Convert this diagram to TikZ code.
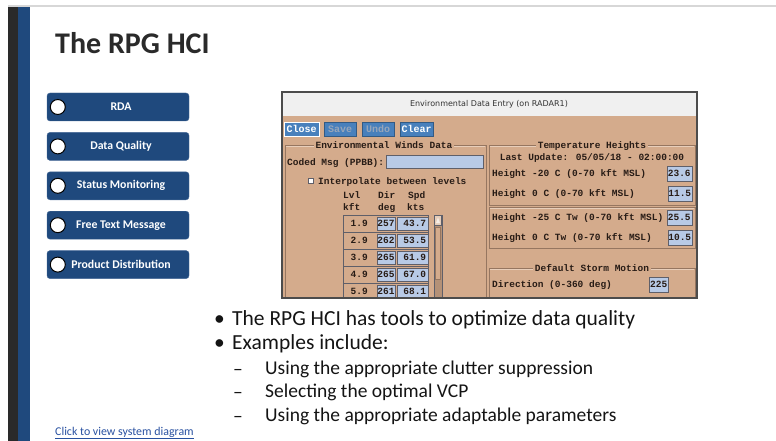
\documentclass[tikz,border=0pt]{standalone}
\usepackage{fontspec}
\setmainfont{Carlito}
\newfontfamily\guifont{Liberation Mono}
\newfontfamily\wintitlefont{DejaVu Sans}
\usetikzlibrary{positioning}

\definecolor{navblue}{RGB}{31,73,125}
\definecolor{navedge}{RGB}{70,105,150}
\definecolor{darkbar}{RGB}{42,42,42}
\definecolor{pageline}{RGB}{215,215,215}
\definecolor{guitan}{RGB}{212,171,140}
\definecolor{guiink}{RGB}{40,28,22}
\definecolor{etchdark}{RGB}{150,118,96}
\definecolor{etchlight}{RGB}{232,206,186}
\definecolor{fieldblue}{RGB}{184,202,230}
\definecolor{fieldedge}{RGB}{95,95,105}
\definecolor{btnblue}{RGB}{72,128,188}
\definecolor{btngrey}{RGB}{150,165,185}
\definecolor{linkblue}{RGB}{40,80,160}
\definecolor{bodyink}{RGB}{20,20,20}

\tikzset{
	navbtn/.style={draw=navedge, fill=navblue, rounded corners=3pt, minimum width=142pt,
		minimum height=28pt, inner sep=0pt, text=white, font=\bfseries\fontsize{11.8}{13}\selectfont},
	navdot/.style={circle, draw=black, fill=white, line width=1pt, minimum size=15pt, inner sep=0pt},
	guitext/.style={font=\guifont\bfseries\fontsize{9.5}{11}\selectfont, text=guiink, inner sep=0pt},
	grouptitle/.style={guitext, fill=guitan, inner xsep=2pt, inner ysep=1pt, anchor=base},
	etched/.style={draw=etchdark, line width=0.8pt},
	guibtn/.style={guitext, fill=btnblue, draw=btnblue!70!black, minimum width=32pt,
		minimum height=14pt, font=\guifont\bfseries\fontsize{10}{11}\selectfont},
	guifield/.style={guitext, fill=fieldblue, draw=fieldedge, line width=0.5pt, minimum height=15pt},
	bullettext/.style={font=\fontsize{21.5}{25}\selectfont, text=bodyink, inner sep=0pt, anchor=base west},
	subtext/.style={font=\fontsize{19.5}{23}\selectfont, text=bodyink, inner sep=0pt, anchor=base west}
}

\begin{document}
\begin{tikzpicture}[x=1pt, y=-1pt]
	\useasboundingbox (0,0) rectangle (776,441);

	% Slide frame: top rule and left bars
	\draw[pageline, line width=1.2pt] (8,6) -- (776,6);
	\fill[darkbar] (8,7) rectangle (18,441);
	\fill[navblue] (18,7) rectangle (30,441);

	\node [anchor=base west, inner sep=0pt, text=darkbar, font=\bfseries\fontsize{30}{34}\selectfont] (title) at (55,53.5) {The RPG HCI};

	% Navigation buttons
	\node [navbtn] (rda) at (118,107) {\hspace{6pt}RDA};
	\node [navbtn, below=11pt of rda] (quality) {\hspace{6pt}Data Quality};
	\node [navbtn, below=11pt of quality] (status) {\hspace{6pt}Status Monitoring};
	\node [navbtn, below=11pt of status] (freetext) {\hspace{6pt}Free Text Message};
	\node [navbtn, below=11pt of freetext] (product) {\hspace{6pt}Product Distribution};
	\node [navdot] (rdadot) at ([xshift=11pt]rda.west) {};
	\node [navdot] (qualitydot) at ([xshift=11pt]quality.west) {};
	\node [navdot] (statusdot) at ([xshift=11pt]status.west) {};
	\node [navdot] (freetextdot) at ([xshift=11pt]freetext.west) {};
	\node [navdot] (productdot) at ([xshift=11pt]product.west) {};

	% Screenshot of the environmental data window
	\fill[guitan] (282,92) rectangle (697,298);
	\fill[white!94!black] (282,92) rectangle (697,116);
	\node [font=\wintitlefont\fontsize{8}{10}\selectfont, text=black!80, inner sep=0pt] (wintitle) at (489,104.5) {Environmental Data Entry (on RADAR1)};
	\begin{scope}
		\clip (282,92) rectangle (697,298);
		\node [guibtn, draw=white, text=white, minimum width=35pt] (close) at (301.5,129) {Close};
		\node [guibtn, text=btngrey] (save) at (340,129) {Save};
		\node [guibtn, text=btngrey] (undo) at (378,129) {Undo};
		\node [guibtn, text=white, minimum width=33pt] (clear) at (416.5,129) {Clear};

		% Group frames
		\draw[etched] (285,300) -- (285,145) -- (486,145) -- (486,300);
		\draw[etched] (489,205) -- (489,145) -- (695,145) -- (695,205) -- cycle;
		\draw[etched] (489,248) -- (489,207) -- (695,207) -- (695,248) -- cycle;
		\draw[etched] (489,300) -- (489,268) -- (695,268) -- (695,300);
		\draw[etchlight, line width=0.6pt] (286,146) -- (485,146);
		\draw[etchlight, line width=0.6pt] (490,146) -- (694,146);
		\draw[etchlight, line width=0.6pt] (490,208) -- (694,208);
		\draw[etchlight, line width=0.6pt] (490,269) -- (694,269);
		\node [grouptitle] (windstitle) at (384,148.5) {Environmental Winds Data};
		\node [grouptitle] (temptitle) at (592,148.5) {Temperature Heights};
		\node [grouptitle] (stormtitle) at (592,271.5) {Default Storm Motion};

		% Winds data
		\node [guitext, anchor=base west] (coded) at (287,165) {Coded Msg (PPBB):};
		\node [guifield, anchor=north west, minimum width=97pt, minimum height=13pt] (codedfield) at (386,155) {};
		\node [draw=fieldedge, fill=white, minimum size=5.5pt, inner sep=0pt] (interpbox) at (310.5,180.5) {};
		\node [guitext, anchor=base west] (interp) at (318,184.5) {Interpolate between levels};
		\node [guitext, anchor=base west] (lvlhead) at (343,198) {Lvl};
		\node [guitext, anchor=base west] (kfthead) at (343,210) {kft};
		\node [guitext, anchor=base west] (dirhead) at (378,198) {Dir};
		\node [guitext, anchor=base west] (deghead) at (378,210) {deg};
		\node [guitext, anchor=base west] (spdhead) at (408,198) {Spd};
		\node [guitext, anchor=base west] (ktshead) at (407,210) {kts};

		\draw[fieldedge, line width=0.8pt] (343,215) rectangle (428,300);
		\draw[fieldedge, line width=0.8pt] (343,232) -- (428,232);
		\draw[fieldedge, line width=0.8pt] (343,249) -- (428,249);
		\draw[fieldedge, line width=0.8pt] (343,266) -- (428,266);
		\draw[fieldedge, line width=0.8pt] (343,283) -- (428,283);
		\node [guitext, anchor=east] (lvla) at (368,223.5) {1.9};
		\node [guifield, minimum width=18pt, minimum height=13pt] (dira) at (386,223.5) {257};
		\node [guifield, anchor=west, minimum width=31pt, minimum height=13pt] (spda) at (397,223.5) {\hspace{4pt}43.7};
		\node [guitext, anchor=east] (lvlb) at (368,240.5) {2.9};
		\node [guifield, minimum width=18pt, minimum height=13pt] (dirb) at (386,240.5) {262};
		\node [guifield, anchor=west, minimum width=31pt, minimum height=13pt] (spdb) at (397,240.5) {\hspace{4pt}53.5};
		\node [guitext, anchor=east] (lvlc) at (368,257.5) {3.9};
		\node [guifield, minimum width=18pt, minimum height=13pt] (dirc) at (386,257.5) {265};
		\node [guifield, anchor=west, minimum width=31pt, minimum height=13pt] (spdc) at (397,257.5) {\hspace{4pt}61.9};
		\node [guitext, anchor=east] (lvld) at (368,274.5) {4.9};
		\node [guifield, minimum width=18pt, minimum height=13pt] (dird) at (386,274.5) {265};
		\node [guifield, anchor=west, minimum width=31pt, minimum height=13pt] (spdd) at (397,274.5) {\hspace{4pt}67.0};
		\node [guitext, anchor=east] (lvle) at (368,291.5) {5.9};
		\node [guifield, minimum width=18pt, minimum height=13pt] (dire) at (386,291.5) {261};
		\node [guifield, anchor=west, minimum width=31pt, minimum height=13pt] (spde) at (397,291.5) {\hspace{4pt}68.1};

		% Scroll bar of the winds table
		\draw[fieldedge, fill=guitan!85!black, line width=0.6pt] (434,215) rectangle (442,300);
		\draw[fieldedge, fill=guitan!60!white, line width=0.5pt] (434.5,215.5) rectangle (441.5,225);
		\fill[white!80!guitan] (436,223) -- (440,223) -- (438,217.5) -- cycle;
		\draw[etchdark, fill=guitan, line width=0.5pt] (435.5,227) rectangle (440.5,279);

		% Temperature heights
		\node [guitext, anchor=base] (lastupdate) at (592,160.5) {Last Update: 05/05/18 - 02:00:00};
		\node [guitext, anchor=base west] (hminus20) at (492,176.5) {Height -20 C (0-70 kft MSL)};
		\node [guifield, anchor=east, minimum width=25pt] (hminus20field) at (692,173.5) {23.6};
		\node [guitext, anchor=base west] (hzero) at (492,196.5) {Height 0 C (0-70 kft MSL)};
		\node [guifield, anchor=east, minimum width=24pt] (hzerofield) at (692,193.5) {11.5};
		\node [guitext, anchor=base west] (hminus25) at (492,220.5) {Height -25 C Tw (0-70 kft MSL)};
		\node [guifield, anchor=east, minimum width=25pt] (hminus25field) at (692,217.5) {25.5};
		\node [guitext, anchor=base west] (hzerotw) at (492,240.5) {Height 0 C Tw (0-70 kft MSL)};
		\node [guifield, anchor=east, minimum width=24pt] (hzerotwfield) at (692,237.5) {10.5};

		% Storm motion
		\node [guitext, anchor=base west] (direction) at (492,287.5) {Direction (0-360 deg)};
		\node [guifield, anchor=west, minimum width=19pt] (directionfield) at (649,284.5) {225};
	\end{scope}
	\draw[black!70, line width=1.2pt] (282,92) rectangle (697,298);

	% Bullet list
	\node [bullettext] (bulleta) at (214,325) {•};
	\node [bullettext] (linea) at (232,325) {The RPG HCI has tools to optimize data quality};
	\node [bullettext] (bulletb) at (214,349) {•};
	\node [bullettext] (lineb) at (232,349) {Examples include:};
	\node [subtext] (dasha) at (233,375) {–};
	\node [subtext] (suba) at (265,374) {Using the appropriate clutter suppression};
	\node [subtext] (dashb) at (233,398) {–};
	\node [subtext] (subb) at (265,397) {Selecting the optimal VCP};
	\node [subtext] (dashc) at (233,422) {–};
	\node [subtext] (subc) at (265,421) {Using the appropriate adaptable parameters};

	\node [anchor=base west, inner sep=0pt, text=linkblue, font=\fontsize{11.9}{13}\selectfont] (syslink) at (55,435) {\underline{Click to view system diagram}};
\end{tikzpicture}
\end{document}
